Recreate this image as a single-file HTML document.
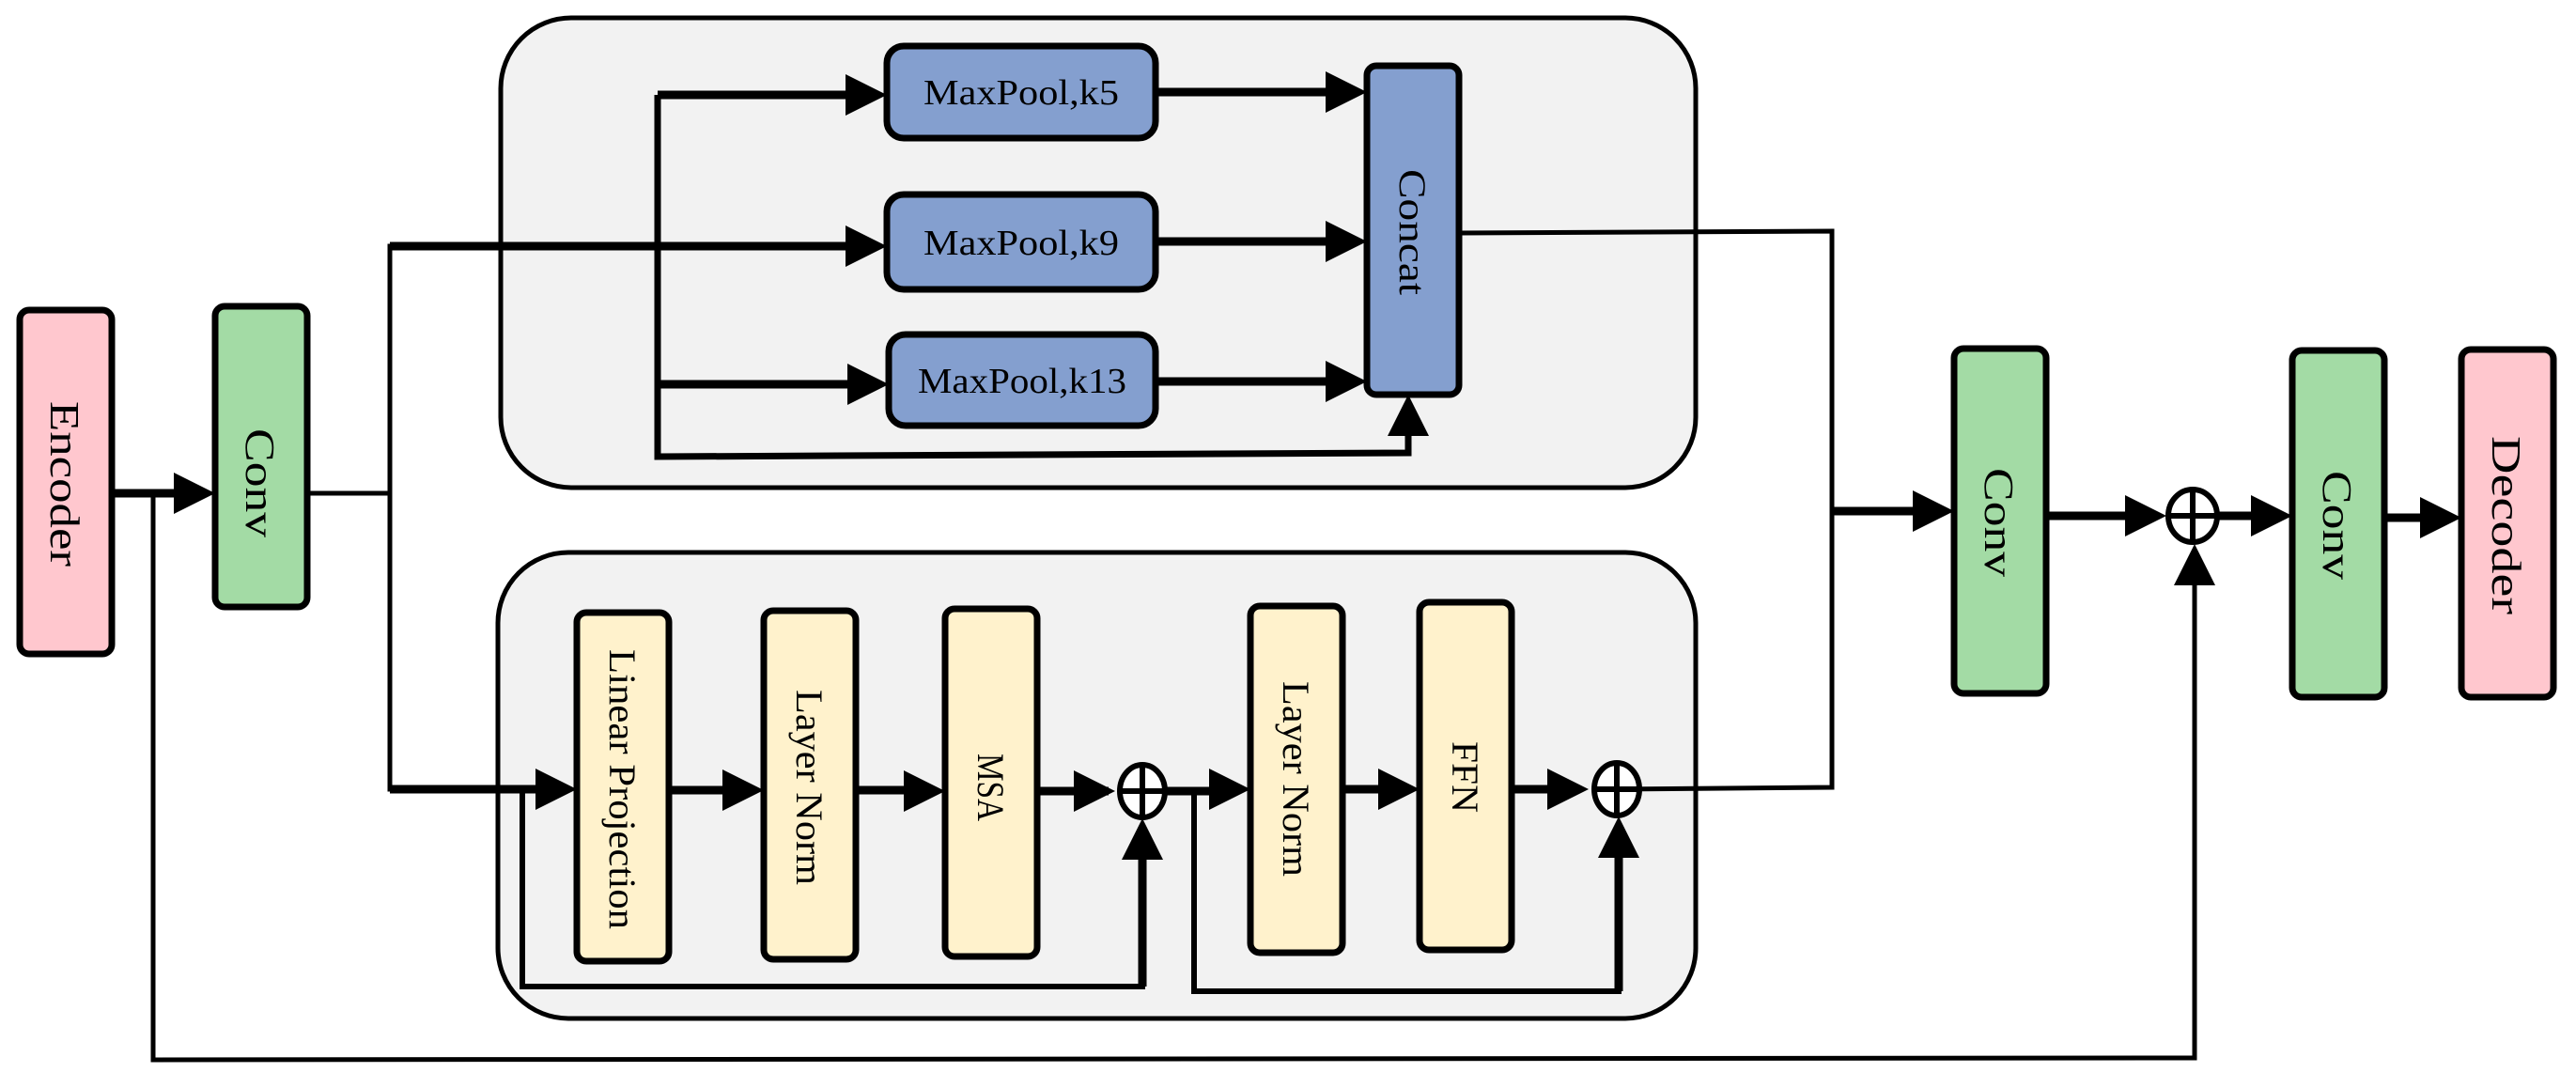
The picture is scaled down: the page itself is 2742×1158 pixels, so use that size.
<!DOCTYPE html>
<html><head><meta charset="utf-8"><style>html,body{margin:0;padding:0;background:#fff}svg{display:block}text{font-family:"Liberation Serif","Times New Roman",serif}</style></head>
<body>
<svg width="2742" height="1158" viewBox="0 0 2742 1158" xmlns="http://www.w3.org/2000/svg">
<rect x="533" y="19" width="1272" height="500" rx="75" fill="#f2f2f2" stroke="#000" stroke-width="5"/>
<rect x="530" y="588" width="1275" height="496" rx="75" fill="#f2f2f2" stroke="#000" stroke-width="5"/>

<g stroke="#000" fill="none" stroke-linejoin="miter">
<polyline points="163,525 163,1128 2336,1126 2336,600" stroke-width="5"/>
<polyline points="327,525 415,525 415,262 900,262" stroke-width="5"/>
<polyline points="415,525 415,840 560,840" stroke-width="5"/>
<polyline points="1553,248 1950,246 1950,838 1720,840" stroke-width="5"/>
<polyline points="556,840 556,1050 1216,1050 1216,900" stroke-width="6"/>
<polyline points="1271,843 1271,1055 1723,1055 1723,895" stroke-width="6"/>
<polyline points="700,101 700,486 1499,482 1499,460" stroke-width="7"/>
<g stroke-width="9">
<line x1="119" y1="525" x2="195" y2="525"/>
<line x1="415" y1="262" x2="905" y2="262"/>
<line x1="700" y1="101" x2="905" y2="101"/>
<line x1="700" y1="409" x2="905" y2="409"/>
<line x1="1230" y1="98" x2="1415" y2="98"/>
<line x1="1230" y1="257" x2="1415" y2="257"/>
<line x1="1230" y1="406" x2="1415" y2="406"/>
<line x1="415" y1="840" x2="580" y2="840"/>
<line x1="712" y1="841" x2="780" y2="841"/>
<line x1="911" y1="841" x2="970" y2="841"/>
<line x1="1104" y1="842" x2="1180" y2="842"/>
<line x1="1242" y1="842" x2="1295" y2="842"/>
<line x1="1429" y1="840" x2="1475" y2="840"/>
<line x1="1609" y1="840" x2="1680" y2="840"/>
<line x1="1950" y1="544" x2="2045" y2="544"/>
<line x1="2178" y1="549" x2="2270" y2="549"/>
<line x1="2362" y1="549" x2="2405" y2="549"/>
<line x1="2538" y1="551" x2="2590" y2="551"/>
<line x1="1216" y1="905" x2="1216" y2="1050"/>
<line x1="1723" y1="900" x2="1723" y2="1055"/>
</g>
</g>
<g fill="#000">
<polygon points="185,503 229,525 185,547"/>
<polygon points="900,240 944,262 900,284"/>
<polygon points="900,79 944,101 900,123"/>
<polygon points="902,387 946,409 902,431"/>
<polygon points="1411,76 1455,98 1411,120"/>
<polygon points="1411,235 1455,257 1411,279"/>
<polygon points="1411,384 1455,406 1411,428"/>
<polygon points="1477,464 1499,420 1521,464"/>
<polygon points="570,818 614,840 570,862"/>
<polygon points="769,819 813,841 769,863"/>
<polygon points="962,820 1006,842 962,864"/>
<polygon points="1143,820 1187,842 1143,864"/>
<polygon points="1287,818 1331,840 1287,862"/>
<polygon points="1467,818 1511,840 1467,862"/>
<polygon points="1647,818 1691,840 1647,862"/>
<polygon points="1194,915 1216,871 1238,915"/>
<polygon points="1701,913 1723,869 1745,913"/>
<polygon points="2036,522 2080,544 2036,566"/>
<polygon points="2262,527 2306,549 2262,571"/>
<polygon points="2396,527 2440,549 2396,571"/>
<polygon points="2576,529 2620,551 2576,573"/>
<polygon points="2314,623 2336,579 2358,623"/>
</g>
<g stroke="#000" stroke-width="6" fill="#fff">
<ellipse cx="1216" cy="842" rx="24" ry="28"/>
<ellipse cx="1721" cy="840" rx="24" ry="28"/>
<ellipse cx="2334" cy="549" rx="26" ry="28"/>
</g>
<g stroke="#000" stroke-width="6">
<line x1="1192" y1="842" x2="1240" y2="842"/><line x1="1216" y1="814" x2="1216" y2="870"/>
<line x1="1697" y1="840" x2="1745" y2="840"/><line x1="1721" y1="812" x2="1721" y2="868"/>
<line x1="2308" y1="549" x2="2360" y2="549"/><line x1="2334" y1="521" x2="2334" y2="577"/>
</g>
<g stroke="#000" stroke-width="7">
<rect x="21" y="330" width="98" height="366" rx="10" fill="#ffc7ce"/>
<rect x="229" y="326" width="98" height="320" rx="10" fill="#a3dba5"/>
<rect x="944" y="49" width="286" height="98" rx="18" fill="#849fcf"/>
<rect x="944" y="207" width="286" height="101" rx="18" fill="#849fcf"/>
<rect x="946" y="356" width="284" height="97" rx="18" fill="#849fcf"/>
<rect x="1455" y="70" width="98" height="350" rx="10" fill="#849fcf"/>
<rect x="614" y="652" width="98" height="371" rx="10" fill="#fff2cc"/>
<rect x="813" y="650" width="98" height="371" rx="10" fill="#fff2cc"/>
<rect x="1006" y="648" width="98" height="370" rx="10" fill="#fff2cc"/>
<rect x="1331" y="645" width="98" height="369" rx="10" fill="#fff2cc"/>
<rect x="1511" y="641" width="98" height="370" rx="10" fill="#fff2cc"/>
<rect x="2080" y="371" width="98" height="367" rx="10" fill="#a3dba5"/>
<rect x="2440" y="373" width="98" height="369" rx="10" fill="#a3dba5"/>
<rect x="2620" y="372" width="98" height="370" rx="10" fill="#ffc7ce"/>
</g>
<g font-size="38" fill="#000" text-anchor="middle">
<text x="1087" y="111" textLength="208" lengthAdjust="spacingAndGlyphs">MaxPool,k5</text>
<text x="1087" y="271" textLength="208" lengthAdjust="spacingAndGlyphs">MaxPool,k9</text>
<text x="1088" y="418" textLength="222" lengthAdjust="spacingAndGlyphs">MaxPool,k13</text>
</g>
<g font-size="44" fill="#000" text-anchor="middle">
<text transform="translate(54,515) rotate(90)" textLength="176" lengthAdjust="spacingAndGlyphs">Encoder</text>
<text transform="translate(262,514) rotate(90)" textLength="116" lengthAdjust="spacingAndGlyphs">Conv</text>
<text transform="translate(2113,556) rotate(90)" textLength="116" lengthAdjust="spacingAndGlyphs">Conv</text>
<text transform="translate(2473,559) rotate(90)" textLength="116" lengthAdjust="spacingAndGlyphs">Conv</text>
<text transform="translate(2653,559) rotate(90)" textLength="190" lengthAdjust="spacingAndGlyphs">Decoder</text>
</g>
<g font-size="40" fill="#000" text-anchor="middle">
<text transform="translate(1490,247) rotate(90)" textLength="134" lengthAdjust="spacingAndGlyphs">Concat</text>
<text transform="translate(649,840) rotate(90)" textLength="298" lengthAdjust="spacingAndGlyphs">Linear Projection</text>
<text transform="translate(848,838) rotate(90)" textLength="208" lengthAdjust="spacingAndGlyphs">Layer Norm</text>
<text transform="translate(1041,838) rotate(90)" textLength="72" lengthAdjust="spacingAndGlyphs">MSA</text>
<text transform="translate(1366,829) rotate(90)" textLength="208" lengthAdjust="spacingAndGlyphs">Layer Norm</text>
<text transform="translate(1546,827) rotate(90)" textLength="76" lengthAdjust="spacingAndGlyphs">FFN</text>
</g>
</svg>
</body></html>
